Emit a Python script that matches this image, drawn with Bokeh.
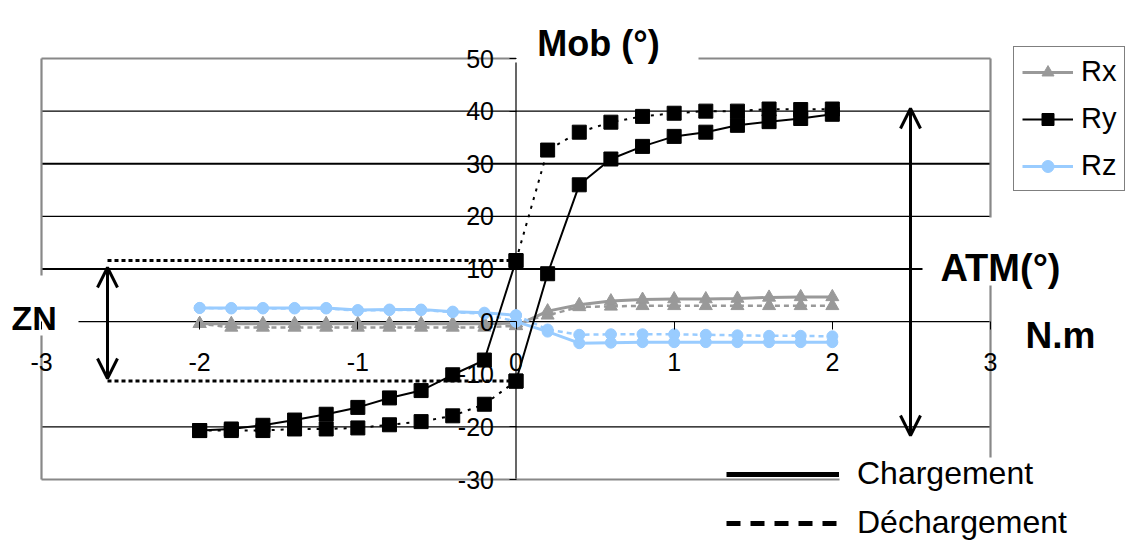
from bokeh.plotting import figure
from bokeh.models import (Range1d, LinearAxis, FixedTicker, Legend, LegendItem,
                          Label, Arrow, OpenHead)
from bokeh.embed import file_html
from bokeh.resources import INLINE

# ---------------- data ----------------
x_neg = [-2.0, -1.8, -1.6, -1.4, -1.2, -1.0, -0.8, -0.6, -0.4, -0.2, 0.0]
x_pos = [0.0, 0.2, 0.4, 0.6, 0.8, 1.0, 1.2, 1.4, 1.6, 1.8, 2.0]

ry_charge_neg = [-20.7, -20.4, -19.7, -18.7, -17.6, -16.3, -14.5, -13.1, -10.1, -7.3, 11.6]
ry_decharge_neg = [-20.7, -20.7, -20.7, -20.4, -20.4, -20.2, -19.6, -19.0, -17.9, -15.7, -11.3]
ry_charge_pos = [-11.3, 9.1, 26.0, 30.9, 33.3, 35.2, 36.0, 37.3, 38.0, 38.6, 39.4]
ry_decharge_pos = [11.6, 32.6, 36.0, 37.9, 39.0, 39.6, 40.0, 40.0, 40.4, 40.3, 40.4]

rx_charge_neg = [-0.4, -0.4, -0.4, -0.4, -0.4, -0.4, -0.4, -0.4, -0.4, -0.4, -0.3]
rx_decharge_neg = [-0.4, -1.1, -1.1, -1.1, -1.1, -1.1, -1.1, -1.1, -1.1, -1.1, -0.8]
rx_charge_pos = [-0.8, 2.0, 3.2, 3.9, 4.2, 4.3, 4.3, 4.4, 4.6, 4.7, 4.7]
rx_decharge_pos = [-0.3, 1.2, 2.8, 2.9, 3.0, 3.0, 3.0, 3.0, 3.0, 3.0, 3.0]

rz_charge_neg = [2.6, 2.6, 2.6, 2.6, 2.6, 2.2, 2.3, 2.3, 1.9, 1.7, 1.2]
rz_decharge_neg = [2.6, 2.5, 2.5, 2.5, 2.5, 2.1, 2.2, 2.2, 1.8, 1.5, 0.0]
rz_charge_pos = [0.0, -1.9, -4.1, -4.0, -3.9, -3.9, -3.9, -3.9, -3.9, -3.9, -3.9]
rz_decharge_pos = [1.2, -1.5, -2.5, -2.4, -2.4, -2.4, -2.5, -2.6, -2.7, -2.7, -2.8]

x_ticks = [-3, -2, -1, 0, 1, 2, 3]
x_tick_labels = ["-3", "-2", "-1", "0", "1", "2", "3"]
y_ticks = [-30, -20, -10, 0, 10, 20, 30, 40, 50]
y_tick_labels = ["-30", "-20", "-10", "0", "10", "20", "30", "40", "50"]

series_names = ["Rx", "Ry", "Rz"]
load_names = ["Chargement", "Déchargement"]

# ---------------- layout (page pixels) ----------------
W, H = 1131, 545
X_MIN, X_MAX, Y_MIN, Y_MAX = -3, 3, -30, 50
PX_L, PX_R, PX_T, PX_B = 41, 990, 58, 479          # plot box edges on the page
SX = (PX_R - PX_L) / (X_MAX - X_MIN)
SY = (PX_B - PX_T) / (Y_MAX - Y_MIN)

def dx(px):
    return X_MIN + (px - PX_L) / SX

def dy(py):
    return Y_MAX - (py - PX_T) / SY

FONT = "Liberation Sans"
GRAY = "#999999"
BLUE = "#99CCFF"
BORDER = "#888888"

p = figure(width=W, height=H, x_range=Range1d(dx(0), dx(W)), y_range=Range1d(dy(H), dy(0)),
           x_axis_type=None, y_axis_type=None, toolbar_location=None,
           output_backend="svg", min_border=0, min_border_left=0, min_border_right=0,
           min_border_top=0, min_border_bottom=0, outline_line_color=None)
p.background_fill_color = "white"
p.border_fill_color = "white"

# grid lines
p.segment(x0=[X_MIN] * 3, y0=[40, 20, -20], x1=[X_MAX] * 3, y1=[40, 20, -20],
          line_color="black", line_width=1.2)
p.segment(x0=[X_MIN], y0=[30], x1=[X_MAX], y1=[30], line_color="black", line_width=2)
p.segment(x0=[X_MIN], y0=[10], x1=[dx(922)], y1=[10], line_color="black", line_width=2)
# axis lines
p.segment(x0=[dx(78)], y0=[0], x1=[X_MAX], y1=[0], line_color="black", line_width=1.2)
p.segment(x0=[0], y0=[Y_MIN], x1=[0], y1=[dy(62)], line_color="black", line_width=1.2)

# frame border pieces
bx0 = [X_MIN, X_MIN, X_MIN, dx(698), X_MAX, X_MAX, X_MIN]
by0 = [Y_MAX, dy(335), Y_MAX, Y_MAX, Y_MAX, dy(285), Y_MIN]
bx1 = [X_MIN, X_MIN, 0, X_MAX, X_MAX, X_MAX, dx(839)]
by1 = [dy(275), Y_MIN, Y_MAX, Y_MAX, dy(217), dy(457), Y_MIN]
p.segment(x0=bx0, y0=by0, x1=bx1, y1=by1, line_color=BORDER, line_width=2.2)

# ZN dotted guides
zn_top = ry_decharge_pos[0]
zn_bot = ry_decharge_neg[-1]
p.segment(x0=[dx(107)] * 2, y0=[zn_top, zn_bot], x1=[0, 0], y1=[zn_top, zn_bot],
          line_color="black", line_width=3, line_dash="4 3")

# ---------------- series ----------------
def draw(xs, ys, color, marker, size, dash, width):
    r_line = p.line(xs, ys, line_color=color, line_width=width, line_dash=dash)
    r_pt = p.scatter(xs, ys, marker=marker, size=size, fill_color=color, line_color=color)
    return r_line, r_pt

rx_rs = []
for xs, ys, dash in [(x_neg, rx_decharge_neg, "5 4"), (x_pos, rx_decharge_pos, "5 4"),
                     (x_neg, rx_charge_neg, "solid"), (x_pos, rx_charge_pos, "solid")]:
    rx_rs.append(draw(xs, ys, GRAY, "triangle", 13, dash, 3 if dash == "solid" else 2.5))
rz_rs = []
for xs, ys, dash in [(x_neg, rz_decharge_neg, "5 4"), (x_pos, rz_decharge_pos, "5 4"),
                     (x_neg, rz_charge_neg, "solid"), (x_pos, rz_charge_pos, "solid")]:
    rz_rs.append(draw(xs, ys, BLUE, "circle", 11, dash, 3 if dash == "solid" else 2.5))
ry_rs = []
for xs, ys, dash in [(x_neg, ry_decharge_neg, "3 6"), (x_pos, ry_decharge_pos, "3 6"),
                     (x_neg, ry_charge_neg, "solid"), (x_pos, ry_charge_pos, "solid")]:
    ry_rs.append(draw(xs, ys, "black", "square", 14, dash, 2))

# ---------------- axes through the origin ----------------
xaxis = LinearAxis(fixed_location=0, ticker=FixedTicker(ticks=x_ticks),
                   major_label_overrides={t: s for t, s in zip(x_ticks, x_tick_labels)},
                   axis_line_color=None, major_tick_line_color="black",
                   major_tick_out=8, major_tick_in=0, minor_tick_line_color=None,
                   major_label_standoff=23, major_label_text_font=FONT,
                   major_label_text_font_size="25px", major_label_text_color="black")
yaxis = LinearAxis(fixed_location=0, ticker=FixedTicker(ticks=y_ticks),
                   major_label_overrides={t: s for t, s in zip(y_ticks, y_tick_labels)},
                   axis_line_color=None,
                   major_tick_line_color="black", major_tick_out=7, major_tick_in=0,
                   minor_tick_line_color=None, major_label_standoff=15,
                   major_label_text_font=FONT, major_label_text_font_size="25px",
                   major_label_text_color="black")
p.add_layout(xaxis, "below")
p.add_layout(yaxis, "left")

# ---------------- arrows ----------------
def dbl_arrow(px, py0, py1):
    p.add_layout(Arrow(x_start=dx(px), y_start=dy(py0), x_end=dx(px), y_end=dy(py1),
                       line_width=3, line_color="black",
                       start=OpenHead(size=20, line_width=3, line_color="black"),
                       end=OpenHead(size=20, line_width=3, line_color="black")))

dbl_arrow(107, 378, 267)
dbl_arrow(910, 435, 108)

# ---------------- text labels ----------------
def lab(px, py, text, size, align="left"):
    p.add_layout(Label(x=dx(px), y=dy(py), text=text, text_font=FONT, text_font_size=size,
                       text_font_style="bold", text_color="black", text_align=align,
                       text_baseline="alphabetic"))

lab(598, 43, "Mob (°)", "36px", "center")
lab(940, 267, "ATM(°)", "38px")
lab(11, 317, "ZN", "34px")
lab(1025, 335, "N.m", "37px")

# ---------------- legends ----------------
legend = Legend(items=[LegendItem(label=series_names[0], renderers=list(rx_rs[3])),
                       LegendItem(label=series_names[1], renderers=list(ry_rs[3])),
                       LegendItem(label=series_names[2], renderers=list(rz_rs[3]))],
                location=(1013, H - 191), border_line_color="black", border_line_width=1,
                background_fill_color="white", background_fill_alpha=1.0,
                padding=8, spacing=14, glyph_width=51, glyph_height=30, label_height=30,
                label_standoff=8, label_text_font=FONT, label_text_font_size="29px",
                label_text_color="black", margin=0)
p.add_layout(legend)

nan = float("nan")
dummy_solid = p.line(x=[nan], y=[nan], line_color="black", line_width=5)
dummy_dash = p.line(x=[nan], y=[nan], line_color="black", line_width=5, line_dash="14 10")
legend2 = Legend(items=[LegendItem(label=load_names[0], renderers=[dummy_solid]),
                        LegendItem(label=load_names[1], renderers=[dummy_dash])],
                 location=(726, H - 541), border_line_color=None,
                 background_fill_alpha=0.0, padding=0, spacing=12,
                 glyph_width=113, glyph_height=30, label_height=30, label_standoff=18,
                 label_text_font=FONT, label_text_font_size="32px",
                 label_text_color="black", margin=0)
p.add_layout(legend2)

open("out.html", "w").write(file_html(p, INLINE))
